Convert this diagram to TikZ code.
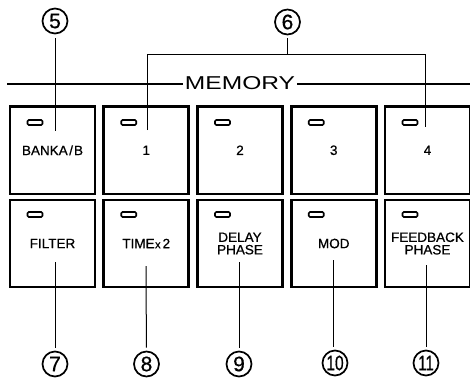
\documentclass[tikz,border=0pt]{standalone}
\usepackage{graphicx}
\usepackage{fontspec}
\setmainfont{Liberation Sans}
\newfontfamily\heavyfamily[FakeBold=0.7]{Liberation Sans}
\newcommand\lblfont{\heavyfamily\fontsize{13.5}{12.5}\selectfont}
\newcommand\numfont{\heavyfamily\fontsize{21}{21}\selectfont}
\begin{document}
\begin{tikzpicture}[x=1pt,y=-1pt,
  btn/.style={draw,line width=2.8pt,minimum width=85pt,inner sep=0pt,align=center,font=\lblfont},
  rowa/.style={minimum height=87.5pt},
  rowb/.style={minimum height=87pt},
  led/.style={draw,line width=1.6pt,rounded corners=1.2pt,minimum width=15pt,minimum height=5pt,inner sep=0pt},
  num/.style={draw,circle,line width=1.7pt,minimum size=25pt,inner sep=0pt,font=\numfont},
  lead/.style={line width=1pt},
  memline/.style={line width=2pt}]
\useasboundingbox (0,0) rectangle (470,378);

% buttons row 1
\node[btn,rowa] (a1) at (52.5,150.25)  {BANKA\kern1.5pt/\kern1pt B};
\node[btn,rowa] (a2) at (146.25,150.25) {1};
\node[btn,rowa] (a3) at (240,150.25)   {2};
\node[btn,rowa] (a4) at (333.75,150.25) {3};
\node[btn,rowa] (a5) at (427.5,150.25) {4};
% buttons row 2
\node[btn,rowb] (b1) at (52.5,243.5)  {FILTER};
\node[btn,rowb] (b2) at (146.25,243.5) {TIME\kern0.5pt{\fontsize{11}{11}\selectfont x}\kern2pt2};
\node[btn,rowb] (b3) at (240,243.5)   {DELAY\\PHASE};
\node[btn,rowb] (b4) at (333.75,243.5) {MOD};
\node[btn,rowb] (b5) at (427.5,243.5) {FEEDBACK\\PHASE};

% LEDs
\node[led] (la1) at (35,122.5) {};
\node[led] (la2) at (128.75,122.5) {};
\node[led] (la3) at (222.5,122.5) {};
\node[led] (la4) at (316.25,122.5) {};
\node[led] (la5) at (410,122.5) {};
\node[led] (lb1) at (35,214.5) {};
\node[led] (lb2) at (128.75,214.5) {};
\node[led] (lb3) at (222.5,214.5) {};
\node[led] (lb4) at (316.25,214.5) {};
\node[led] (lb5) at (410,214.5) {};

% MEMORY heading
\node[inner xsep=2pt,inner ysep=0pt] (mem) at (240,83.5) {\resizebox{110pt}{13pt}{MEMORY}};
\coordinate (ml) at (7,83.5);
\coordinate (mr) at (470,83.5);
\draw[memline] (ml) -- (mem.west);
\draw[memline] (mem.east) -- (mr);

% callout circles
\node[num] (c5) at (55,21) {5};
\node[num] (c6) at (287.5,22) {6};
\node[num] (c7) at (55,364) {7};
\node[num] (c8) at (146.5,364) {8};
\node[num] (c9) at (239,364) {9};
\node[num] (c10) at (335,363) {\scalebox{0.74}[1]{10}};
\node[num] (c11) at (426,363) {\scalebox{0.72}[1]{11}};

% leader ends
\coordinate (e5) at (55,131);
\coordinate (k6) at (287.5,54);
\coordinate (k6l) at (147,54);
\coordinate (k6r) at (425,54);
\coordinate (e6l) at (147,130);
\coordinate (e6r) at (425,127);
\coordinate (e7) at (55,262);
\coordinate (e8) at (146,266);
\coordinate (e9) at (239,262);
\coordinate (e10) at (333,260);
\coordinate (e11) at (426,265);

\draw[lead,shorten <=4pt] (c5) -- (e5);
\draw[lead,shorten <=3pt] (c6) -- (k6);
\draw[lead] (e6l) -- (k6l) -- (k6r) -- (e6r);
\draw[lead,shorten <=3pt] (c7) -- (e7);
\draw[lead,shorten <=3pt] (c8) -- (e8);
\draw[lead,shorten <=3pt] (c9) -- (e9);
\draw[lead,shorten <=3pt] (c10.north -| e10) -- (e10);
\draw[lead,shorten <=3pt] (c11) -- (e11);
\end{tikzpicture}
\end{document}
